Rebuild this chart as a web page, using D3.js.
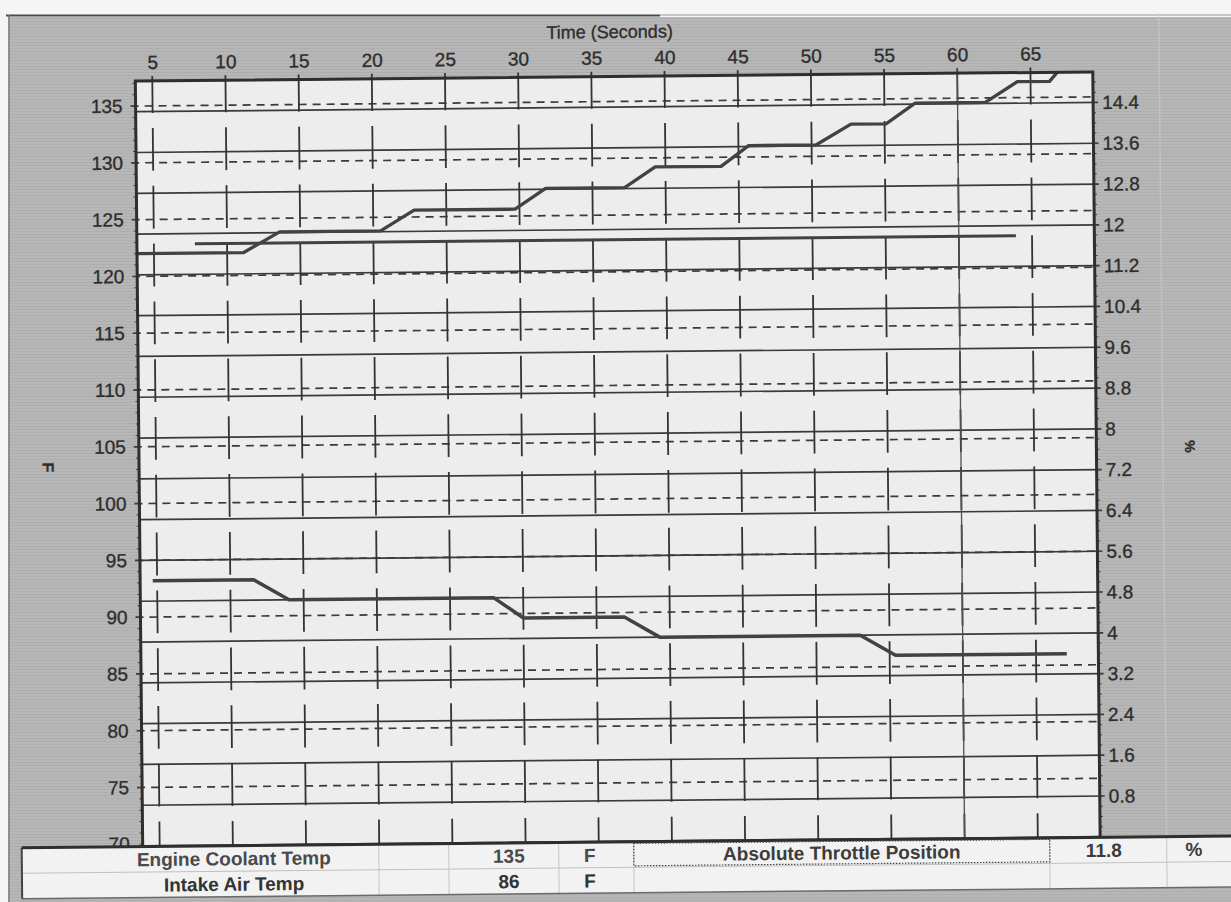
<!DOCTYPE html>
<html>
<head>
<meta charset="utf-8">
<script src="https://cdn.jsdelivr.net/npm/d3@7"></script>
<style>
  html, body { margin: 0; padding: 0; background: #f5f5f5; }
  svg { display: block; }
  text { font-family: "Liberation Sans", Arial, sans-serif; fill: #2e2e2e; stroke: #2e2e2e; stroke-width: 0.35px; }
</style>
</head>
<body>
<svg id="chart" width="1231" height="902"></svg>
<script>
// readings taken off the printout (seconds / deg F / %)
var coolantTime = [3.9, 11.1, 13.6, 20.5, 22.8, 29.7, 31.8, 37.2, 39.3, 43.8, 45.7, 50.3, 52.7, 55.1, 57.1, 61.9, 64.1, 66.3, 67.5, 69.3];
var coolantF    = [122.0, 122.0, 123.8, 123.8, 125.6, 125.6, 127.4, 127.4, 129.2, 129.2, 131.0, 131.0, 132.8, 132.8, 134.6, 134.6, 136.4, 136.4, 138.2, 138.2];

var intakeTime = [4.7, 11.6, 14.0, 28.0, 30.0, 36.9, 39.3, 53.0, 55.4, 67.1];
var intakeF    = [93.2, 93.2, 91.4, 91.4, 89.6, 89.6, 87.8, 87.8, 86.0, 86.0];

var throttleTime = [7.8, 63.9];
var throttlePct  = [11.8, 11.8];

var cursorTime = 60;

// tick labels
var timeTicks = [5, 10, 15, 20, 25, 30, 35, 40, 45, 50, 55, 60, 65];
var tempTicks = [75, 80, 85, 90, 95, 100, 105, 110, 115, 120, 125, 130, 135];
var pctTicks  = [0.8, 1.6, 2.4, 3.2, 4, 4.8, 5.6, 6.4, 7.2, 8, 8.8, 9.6, 10.4, 11.2, 12, 12.8, 13.6, 14.4];

// readout table
var leftNames  = ["Engine Coolant Temp", "Intake Air Temp"];
var leftValues = ["135", "86"];
var leftUnits  = ["F", "F"];
var rightNames  = ["Absolute Throttle Position"];
var rightValues = ["11.8"];
var rightUnits  = ["%"];

var W = 1231, H = 902;
var plot = {left: 139, right: 1096.5, top: 76.5, bottom: 842};

var x = d3.scaleLinear().domain([3.84, 69.26]).range([plot.left, plot.right]);
var yF = d3.scaleLinear().domain([69.8, 137.2]).range([plot.bottom, plot.top]);
var yP = d3.scaleLinear().domain([0, 15]).range([plot.bottom - 0.5, plot.top]);

var svg = d3.select("#chart");
var defs = svg.append("defs");

// scanned halftone look for the grey frame
var pat = defs.append("pattern")
    .attr("id", "scan")
    .attr("patternUnits", "userSpaceOnUse")
    .attr("width", 7).attr("height", 3);
pat.append("rect").attr("width", 7).attr("height", 3).attr("fill", "#b7b7b7");
pat.append("rect").attr("width", 7).attr("height", 1).attr("fill", "#aeaeae");

defs.append("clipPath").attr("id", "plotclip")
  .append("rect")
    .attr("x", plot.left).attr("y", plot.top)
    .attr("width", plot.right - plot.left)
    .attr("height", plot.bottom - plot.top);

// paper + window frame
svg.append("rect").attr("width", W).attr("height", H).attr("fill", "#f5f5f5");
svg.append("rect")
    .attr("x", 10).attr("y", 17)
    .attr("width", W - 10).attr("height", H - 17)
    .attr("fill", "url(#scan)");
svg.append("line")
    .attr("x1", 6).attr("x2", 660).attr("y1", 15.5).attr("y2", 15.5)
    .attr("stroke", "#4a4a4a").attr("stroke-width", 2);
svg.append("line")
    .attr("x1", 660).attr("x2", W).attr("y1", 15).attr("y2", 15)
    .attr("stroke", "#9a9a9a").attr("stroke-width", 1);
svg.append("line")
    .attr("x1", 9).attr("x2", 9).attr("y1", 15).attr("y2", H)
    .attr("stroke", "#6a6a6a").attr("stroke-width", 1.5);

// the printout is a touch crooked
var g = svg.append("g").attr("transform", "rotate(-0.55,615,460)");

g.append("line")
    .attr("x1", 1163).attr("x2", 1163).attr("y1", 18).attr("y2", plot.bottom)
    .attr("stroke", "#cfcfcf").attr("stroke-opacity", 0.5).attr("stroke-width", 1.5);

g.append("rect")
    .attr("x", plot.left).attr("y", plot.top)
    .attr("width", plot.right - plot.left)
    .attr("height", plot.bottom - plot.top)
    .attr("fill", "#ededed");

// solid lines on the % scale
g.append("g").selectAll("line")
  .data(pctTicks)
  .enter().append("line")
    .attr("x1", plot.left).attr("x2", plot.right + 5)
    .attr("y1", function(d) { return yP(d); })
    .attr("y2", function(d) { return yP(d); })
    .attr("stroke", "#3a3a3a").attr("stroke-width", 1.7);

// dashed lines on the F scale
g.append("g").selectAll("line")
  .data(tempTicks)
  .enter().append("line")
    .attr("x1", plot.left - 5).attr("x2", plot.right)
    .attr("y1", function(d) { return yF(d); })
    .attr("y2", function(d) { return yF(d); })
    .attr("stroke", "#3a3a3a").attr("stroke-width", 1.7)
    .attr("stroke-dasharray", "8,6");

// time grid, long dashes
g.append("g").selectAll("line")
  .data(timeTicks)
  .enter().append("line")
    .attr("x1", function(d) { return x(d); })
    .attr("x2", function(d) { return x(d); })
    .attr("y1", plot.top - 5).attr("y2", plot.bottom)
    .attr("stroke", "#333").attr("stroke-width", 1.8)
    .attr("stroke-dasharray", "42.8,15")
    .attr("stroke-dashoffset", 5.7);

// cursor
g.append("line")
    .attr("x1", x(cursorTime)).attr("x2", x(cursorTime))
    .attr("y1", plot.top - 5).attr("y2", plot.bottom)
    .attr("stroke", "#505050").attr("stroke-width", 1.3);

// minor ticks
g.append("g").selectAll("line")
  .data(d3.range(70, 138, 1))
  .enter().append("line")
    .attr("x1", plot.left - 3).attr("x2", plot.left)
    .attr("y1", function(d) { return yF(d); })
    .attr("y2", function(d) { return yF(d); })
    .attr("stroke", "#444").attr("stroke-width", 1);
g.append("g").selectAll("line")
  .data(d3.range(0, 75, 1))
  .enter().append("line")
    .attr("x1", plot.right).attr("x2", plot.right + 3)
    .attr("y1", function(d) { return yP(d * 0.2); })
    .attr("y2", function(d) { return yP(d * 0.2); })
    .attr("stroke", "#444").attr("stroke-width", 1);

// series
var lines = g.append("g").attr("clip-path", "url(#plotclip)");
function drawSeries(ts, vs, yScale, width) {
  var pts = ts.map(function(t, i) { return [t, vs[i]]; });
  lines.append("path")
      .datum(pts)
      .attr("fill", "none")
      .attr("stroke", "#424242")
      .attr("stroke-width", width)
      .attr("stroke-linejoin", "round")
      .attr("d", d3.line()
        .x(function(d) { return x(d[0]); })
        .y(function(d) { return yScale(d[1]); }));
}
drawSeries(throttleTime, throttlePct, yP, 3);
drawSeries(intakeTime, intakeF, yF, 3.5);
drawSeries(coolantTime, coolantF, yF, 3.3);

// border
g.append("rect")
    .attr("x", plot.left).attr("y", plot.top)
    .attr("width", plot.right - plot.left)
    .attr("height", plot.bottom - plot.top)
    .attr("fill", "none")
    .attr("stroke", "#2e2e2e").attr("stroke-width", 3);

// axes (labels only, grid drawn above)
function styleAxis(sel) {
  sel.select(".domain").remove();
  sel.selectAll(".tick line").remove();
  sel.selectAll("text")
      .attr("fill", "#2e2e2e")
      .style("font-size", "19px");
}
g.append("g")
    .attr("transform", "translate(" + plot.left + ",0)")
    .call(d3.axisLeft(yF).tickValues(tempTicks).tickSize(5).tickPadding(8))
    .call(styleAxis);
g.append("g")
    .attr("transform", "translate(" + plot.right + ",0)")
    .call(d3.axisRight(yP).tickValues(pctTicks).tickFormat(function(d) { return String(d); })
      .tickSize(5).tickPadding(4))
    .call(styleAxis);
g.append("g")
    .attr("transform", "translate(0," + plot.top + ")")
    .call(d3.axisTop(x).tickValues(timeTicks).tickSize(0).tickPadding(12))
    .call(styleAxis);

// "70" peeks out from under the table
g.append("text")
    .attr("x", plot.left - 13).attr("y", yF(70))
    .attr("dy", "0.32em")
    .attr("text-anchor", "end")
    .style("font-size", "19px")
    .text("70");

g.append("text")
    .attr("x", (plot.left + plot.right) / 2 - 4).attr("y", 38)
    .attr("text-anchor", "middle")
    .style("font-size", "18px")
    .text("Time (Seconds)");

g.append("text")
    .attr("transform", "translate(48,462) rotate(90)")
    .attr("text-anchor", "middle").attr("dy", "0.35em")
    .style("font-size", "16px").style("font-weight", "bold")
    .text("F");
g.append("text")
    .attr("transform", "translate(1190,452) rotate(90)")
    .attr("text-anchor", "middle").attr("dy", "0.35em")
    .style("font-size", "14px").style("font-weight", "bold")
    .text("%");

// readout table
var tb = {left: 18, top: 842, row: 25.5};
var tg = g.append("g");
tg.append("rect")
    .attr("x", tb.left).attr("y", tb.top)
    .attr("width", W + 20 - tb.left).attr("height", tb.row * 2)
    .attr("fill", "#f2f2f2");
[375, 445, 555, 630, 1046, 1163].forEach(function(cx) {
  tg.append("line")
      .attr("x1", cx).attr("x2", cx)
      .attr("y1", tb.top).attr("y2", tb.top + tb.row * 2)
      .attr("stroke", "#c6c6c6").attr("stroke-width", 1);
});
tg.append("line")
    .attr("x1", tb.left).attr("x2", W + 20)
    .attr("y1", tb.top + tb.row).attr("y2", tb.top + tb.row)
    .attr("stroke", "#c0c0c0").attr("stroke-width", 1);
tg.append("line")
    .attr("x1", tb.left).attr("x2", W + 20)
    .attr("y1", tb.top + tb.row * 2).attr("y2", tb.top + tb.row * 2)
    .attr("stroke", "#6a6a6a").attr("stroke-width", 1.5);
tg.append("line")
    .attr("x1", tb.left).attr("x2", tb.left)
    .attr("y1", tb.top).attr("y2", tb.top + tb.row * 2)
    .attr("stroke", "#444").attr("stroke-width", 2);
tg.append("line")
    .attr("x1", tb.left).attr("x2", W + 20)
    .attr("y1", tb.top).attr("y2", tb.top)
    .attr("stroke", "#2e2e2e").attr("stroke-width", 3);
tg.append("rect")
    .attr("x", 630).attr("y", tb.top + 1.5)
    .attr("width", 416).attr("height", tb.row - 3)
    .attr("fill", "none")
    .attr("stroke", "#444").attr("stroke-width", 1.2)
    .attr("stroke-dasharray", "1.5,1.5");

function cell(txt, cx, row, color) {
  tg.append("text")
      .attr("x", cx).attr("y", tb.top + tb.row * row + tb.row / 2)
      .attr("dy", "0.36em")
      .attr("text-anchor", "middle")
      .style("font-size", "19px").style("font-weight", "bold")
      .style("fill", color).style("stroke", "none")
      .text(txt);
}
leftNames.forEach(function(n, i) {
  var c = i === 0 ? "#4a4a4a" : "#333";
  cell(n, 230, i, c);
  cell(leftValues[i], 505, i, c);
  cell(leftUnits[i], 586, i, c);
});
rightNames.forEach(function(n, i) {
  cell(n, 838, i, "#3c3c3c");
  cell(rightValues[i], 1100, i, "#3c3c3c");
  cell(rightUnits[i], 1190, i, "#3c3c3c");
});
</script>
</body>
</html>
